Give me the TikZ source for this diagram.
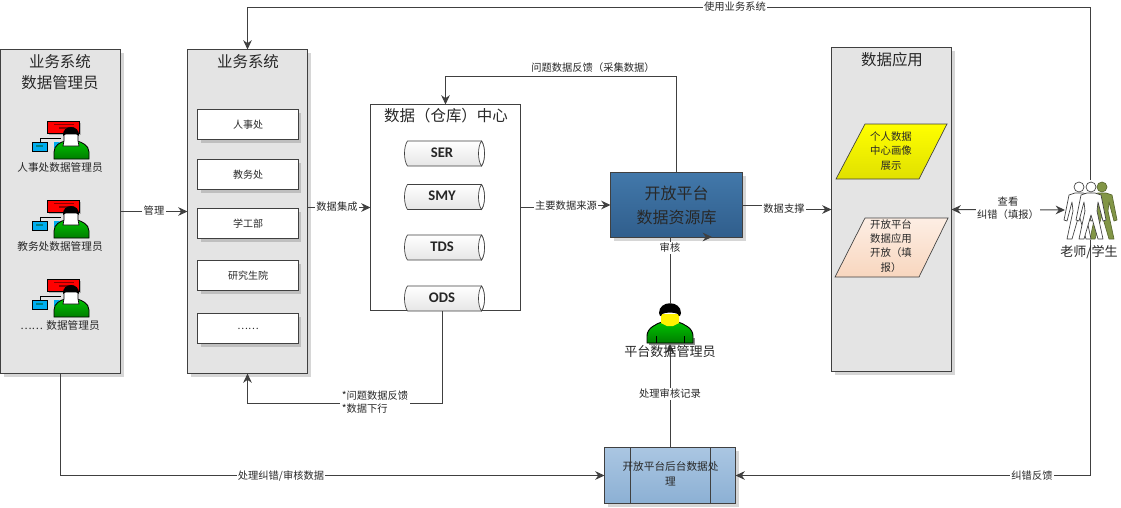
\documentclass[tikz,border=0pt]{standalone}
\usepackage{fontspec}
\setmainfont{Noto Sans CJK SC}
\newfontfamily\latinbold{Carlito}
\usepackage{xcolor}
\definecolor{lineGray}{RGB}{64, 64, 64}
\definecolor{panelGray}{RGB}{228, 228, 228}
\definecolor{textGray}{RGB}{40, 40, 40}
\definecolor{blueTop}{RGB}{66, 120, 170}
\definecolor{blueBottom}{RGB}{48, 94, 140}
\definecolor{steelTop}{RGB}{170, 198, 226}
\definecolor{steelBottom}{RGB}{140, 176, 212}
\definecolor{peachTop}{RGB}{253, 238, 228}
\definecolor{peachBottom}{RGB}{248, 214, 190}
\definecolor{yellowBottom}{RGB}{224, 224, 0}
\definecolor{bodyGreen}{RGB}{0, 195, 0}
\definecolor{bodyDark}{RGB}{0, 125, 0}
\definecolor{oliveBack}{RGB}{130, 150, 70}
\usepackage{tikz}
\usetikzlibrary{arrows.meta, positioning, calc, shadows}
\tikzset{
    softshadow/.style={drop shadow={shadow xshift=2.25pt, shadow yshift=-2.25pt, draw=none, fill=black, opacity=0.16}},
    panel/.style={draw=lineGray, fill=panelGray, line width=0.6pt, inner sep=0pt, outer sep=0pt, softshadow},
    subbox/.style={draw=lineGray, fill=white, line width=0.5pt, inner sep=0pt, outer sep=0pt, minimum width=75.5pt, minimum height=22.5pt, softshadow, font=\fontsize{7.5}{10}\selectfont, text=textGray},
    storetext/.style={font=\latinbold\bfseries\fontsize{11}{13}\selectfont, text=black!85},
    title/.style={font=\fontsize{11.6}{16}\selectfont, text=textGray, align=center},
    caption/.style={font=\fontsize{8}{11}\selectfont, text=textGray, align=center},
    lbl/.style={font=\fontsize{7.7}{10}\selectfont, text=textGray, fill=white, inner sep=1pt, align=center},
    conn/.style={draw=lineGray, line width=0.75pt},
    flow/.style={conn, -{Stealth[length=7pt, width=6.5pt]}},
    flowboth/.style={conn, {Stealth[length=7pt, width=6.5pt]}-{Stealth[length=7pt, width=6.5pt]}},
    para/.style={draw=lineGray, line width=0.5pt},
    storeicon/.pic={
        \draw[para, top color=white, bottom color=black!10] (-37,-12.5) -- (37,-12.5) .. controls (41,-7) and (41,7) .. (37,12.5) -- (-37,12.5) .. controls (-41,7) and (-41,-7) .. (-37,-12.5) -- cycle;
        \draw[para, fill=white] (37,-12.5) .. controls (33,-7) and (33,7) .. (37,12.5) .. controls (41,7) and (41,-7) .. (37,-12.5) -- cycle;
    },
    adminicon/.pic={
        \fill[black!30] (-22,-27) rectangle (10,-15);
        \draw[fill=red, line width=0.5pt] (-24,-29) rectangle (8,-17);
        \fill[red!55!black] (-17,-26) rectangle (3,-25);
        \fill[red!55!black] (-12,-23) rectangle (3,-21);
        \draw[line width=0.5pt] (-31,-8) -- (-31,-12) -- (-10,-12);
        \draw[fill=cyan, line width=0.5pt] (-39,-8) rectangle (-24,1);
        \fill[teal] (-35,-5) rectangle (-28,-3);
        \fill[cyan] (-17,-1) -- (-17,-8) -- (-11,-8) -- cycle;
        \draw[top color=bodyGreen, bottom color=bodyDark, line width=0.6pt] (-17,9) -- (-17,2) .. controls (-17,-5) and (-10,-8) .. (-6,-9) -- (6,-9) .. controls (10,-8) and (18,-5) .. (18,2) -- (18,9) -- cycle;
        \draw[fill=white, line width=0.5pt] (-7,-16) -- (-7,-9) -- (-8,-4) -- (8,-4) -- (7,-9) -- (7,-16) -- cycle;
        \fill[black] (-8,-14) .. controls (-9,-26) and (9,-26) .. (8,-14) .. controls (5,-18) and (-5,-18) .. (-8,-14) -- cycle;
    },
    reviewericon/.pic={
        \fill[black!45] (-21,21) -- (-21,14) -- (25,14) -- (25,21) -- cycle;
        \draw[top color=bodyGreen, bottom color=bodyDark, line width=0.7pt] (-23,19) -- (-23,12) .. controls (-23,4) and (-14,0) .. (-8,-2) -- (8,-2) .. controls (14,0) and (23,4) .. (23,12) -- (23,19) -- cycle;
        \draw[line width=0.5pt] (-14,19) -- (-14,12) (14,19) -- (14,12);
        \fill[yellow] (-9,-10) -- (9,-10) -- (9,-1) -- (3,2) -- (-3,2) -- (-9,-1) -- cycle;
        \fill[black] (-11,-11) .. controls (-11,-24) and (11,-24) .. (11,-11) .. controls (10,-7) and (9,-7) .. (8,-10) .. controls (3,-12) and (-3,-12) .. (-8,-10) .. controls (-9,-7) and (-10,-7) .. (-11,-11) -- cycle;
    },
    figureicon/.pic={
        \draw[pic actions, line width=0.5pt] (0,0) circle (5);
        \draw[pic actions, line width=0.5pt, line join=round] (-4,6) -- (4,6) -- (10,8) -- (15,33) -- (12,34) -- (7,15) -- (6,24) -- (12,52) -- (7,52) -- (0,28) -- (-7,52) -- (-12,52) -- (-6,24) -- (-7,15) -- (-12,34) -- (-15,33) -- (-10,8) -- cycle;
    }
}

\begin{document}
\begin{tikzpicture}[x=0.75pt, y=-0.75pt]
    \useasboundingbox (0,0) rectangle (1121,507);

    \node[panel, minimum width=90pt, minimum height=243pt] (admins) at (60.5,211.5) {};
    \node[panel, minimum width=90pt, minimum height=243pt] (bizsys) at (247.5,211.5) {};
    \node[panel, minimum width=90pt, minimum height=243pt] (apps) at (891.5,209.5) {};
    \node[draw=lineGray, fill=white, line width=0.6pt, inner sep=0pt, outer sep=0pt, minimum width=112.5pt, minimum height=154.5pt] (dwcenter) at (445.5,207.5) {};
    \node[panel, top color=blueTop, bottom color=blueBottom, minimum width=99pt, minimum height=48.75pt, title, align=center, font=\fontsize{12}{18}\selectfont] (platformdb) at (676.5,205) {开放平台\\数据资源库};
    \node[panel, top color=steelTop, bottom color=steelBottom, minimum width=98.25pt, minimum height=42pt] (backend) at (670,475.5) {};
    \draw[para] (630,447.5) -- (630,503.5) (710,447.5) -- (710,503.5);
    \node[caption] (backendtext) at (670.5,474) {开放平台后台数据处\\理};

    \node[title] (adminstitle) at (60,72) {业务系统\\数据管理员};
    \node[title] (bizsystitle) at (248,62) {业务系统};
    \node[title] (dwtitle) at (446,116) {数据（仓库）中心};
    \node[title] (appstitle) at (892,60) {数据应用};

    \pic at (71,150) {adminicon};
    \pic at (71,229) {adminicon};
    \pic at (71,308) {adminicon};
    \node[caption] (adminhr) at (60,167) {人事处数据管理员};
    \node[caption] (adminedu) at (60,246) {教务处数据管理员};
    \node[caption] (adminother) at (60,325) {……\,\,数据管理员};

    \node[subbox] (hr) at (248,124.5) {人事处};
    \node[subbox] (edu) at (248,174.5) {教务处};
    \node[subbox] (student) at (248,223.5) {学工部};
    \node[subbox] (graduate) at (248,275.5) {研究生院};
    \node[subbox] (otherdept) at (248,328.5) {……};

    \pic at (444.5,153.5) {storeicon};
    \pic at (444.5,197) {storeicon};
    \pic at (444.5,247.5) {storeicon};
    \pic at (444.5,298.5) {storeicon};
    \node[storetext] (sertext) at (442,153) {SER};
    \node[storetext] (smytext) at (442,196) {SMY};
    \node[storetext] (tdstext) at (442,247) {TDS};
    \node[storetext] (odstext) at (442,298) {ODS};

    \draw[para, top color=yellow, bottom color=yellowBottom] (836,179) -- (865,124) -- (947,124) -- (919,179) -- cycle;
    \draw[para, top color=peachTop, bottom color=peachBottom] (835,277) -- (865,218) -- (948,218) -- (919,277) -- cycle;
    \node[caption, font=\fontsize{7.8}{10.6}\selectfont] (profile) at (891,151) {个人数据\\中心画像\\展示};
    \node[caption, font=\fontsize{7.8}{10.6}\selectfont] (fillin) at (891,246) {开放平台\\数据应用\\开放（填\\报）};

    \node[inner sep=0pt, outer sep=0pt, minimum width=37.5pt, minimum height=45pt] (teacher) at (1090,210) {};
    \pic[fill=oliveBack, draw=oliveBack!70!black] at (1102,187) {figureicon};
    \pic[fill=white, draw=lineGray] at (1079,187) {figureicon};
    \pic[fill=white, draw=lineGray] at (1091,187) {figureicon};
    \node[inner sep=0pt, outer sep=0pt, minimum width=34.5pt, minimum height=30pt] (reviewer) at (670,324) {};
    \pic at (670,324) {reviewericon};

    \coordinate (dwout) at (442,311);
    \coordinate (dwbend) at (442,403);
    \coordinate (reviewend) at (712,237);
    \coordinate (jogsource) at (565,206);
    \coordinate (jogsupport) at (784,208);
    \coordinate (feedbackbend) at (676.5,76);
    \coordinate (usebendright) at (1090,7);
    \coordinate (usebendleft) at (247.5,7);

    \draw[flow] (admins.east) -- (bizsys.west |- admins.east);
    \draw[flow] (bizsys.east |- dwcenter.west) -- (dwcenter.west);
    \draw[flow] (dwcenter.east) -| (jogsource) |- (platformdb.west);
    \draw[flow] (platformdb.east) -| (jogsupport) |- (apps.west);
    \draw[flowboth] (apps.east) -- (teacher.west);
    \draw[flow] (platformdb.north) -- (feedbackbend) -| (dwcenter.north);
    \draw[flow] (teacher.north) -- (usebendright) -- (usebendleft) -- (bizsys.north);
    \draw[flow] (teacher.south) |- (backend.east);
    \draw[flow] (admins.south) |- (backend.west);
    \draw[flow] (dwout) -- (dwbend) -| (bizsys.south);
    \draw[flow] (backend.north) -- (reviewer.south);
    \draw[flow] (reviewer.north) |- (reviewend);

    \node[lbl] (lbluse) at (735,7) {使用业务系统};
    \node[lbl] (lblfeedback) at (593,68) {问题数据反馈（采集数据）};
    \node[lbl] (lblmanage) at (154,211) {管理};
    \node[lbl] (lblintegrate) at (337,207) {数据集成};
    \node[lbl] (lblsource) at (566,206) {主要数据来源};
    \node[lbl] (lblsupport) at (784,209) {数据支撑};
    \node[lbl] (lblview) at (1008,208) {查看\\纠错（填报）};
    \node[lbl] (lblreview) at (670,248) {审核};
    \node[lbl] (lblrecord) at (670,394) {处理审核记录};
    \node[lbl, align=left] (lbldown) at (375,402) {*问题数据反馈\\*数据下行};
    \node[lbl] (lblcorrect) at (281,476) {处理纠错/审核数据};
    \node[lbl] (lblerror) at (1032,476) {纠错反馈};
    \node[font=\fontsize{9.8}{12}\selectfont, text=textGray, inner sep=0pt] (reviewername) at (670,352) {平台数据管理员};
    \node[font=\fontsize{9.8}{12}\selectfont, text=textGray, inner sep=0pt] (teachername) at (1089,252) {老师/学生};
\end{tikzpicture}
\end{document}
